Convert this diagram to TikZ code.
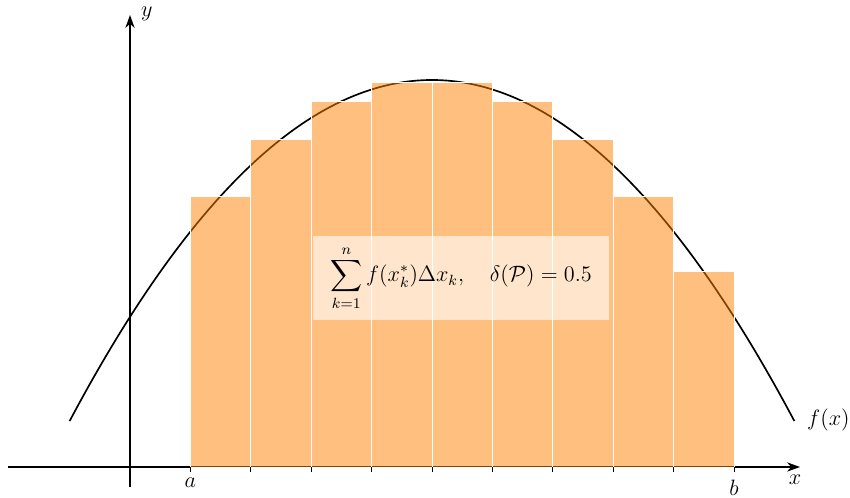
\documentclass[tikz,border=0pt]{standalone}
\usepackage{amsmath}
\usetikzlibrary{arrows.meta}
\begin{document}
\begin{tikzpicture}[x=0.54pt,y=0.54pt,
  every node/.style={font=\large},
  axis/.style={line width=0.85pt,-{Stealth[length=7pt,width=5pt]}},
  curve/.style={line width=0.9pt,black},
  bar/.style={fill=orange,fill opacity=0.5,draw=white,line width=0.5pt},
  tick/.style={line width=0.5pt},
  lbl/.style={inner sep=1pt}]
\useasboundingbox (0,0) rectangle (850,498);
% axes
\coordinate (xs) at (8,31);
\coordinate (xe) at (800,31);
\coordinate (ys) at (130,11);
\coordinate (ye) at (130,483);
\draw[axis] (xs) -- (xe);
\draw[axis] (ys) -- (ye);
\node[lbl,anchor=north] (xl) at (795,25) {$x$};
\node[lbl,anchor=west] (yl) at (139,484) {$y$};
% curve
\draw[curve] plot[domain=-0.5:5.5,samples=80,smooth] ({130+120.8*\x},{418-37.9*(\x-2.5)^2});
\coordinate (cend) at ({130+120.8*5.5},{418-37.9*9});
\node[lbl,anchor=west] (fl) at (805,78) {$f(x)$};
% bars
\foreach \i in {0,...,8}{
  \pgfmathsetmacro{\L}{0.5+0.5*\i}
  \pgfmathsetmacro{\M}{\L+0.25}
  \pgfmathsetmacro{\H}{418-37.9*(\M-2.5)^2}
  \draw[bar] ({130+120.8*\L},31) rectangle ({130+120.8*(\L+0.5)},\H);
}
% ticks
\foreach \i in {0,...,9}{
  \pgfmathsetmacro{\L}{0.5+0.5*\i}
  \draw[tick] ({130+120.8*\L},31) -- ({130+120.8*\L},26);
}
\node[lbl,anchor=north] (al) at ({130+120.8*0.5},22) {$a$};
\node[lbl,anchor=north] (bl) at ({130+120.8*5},20) {$b$};
% label box
\node[fill=white,fill opacity=0.6,text opacity=1,minimum width=160pt,minimum height=45pt,inner sep=0pt] (box) at (461,220)
  {$\displaystyle\sum_{k=1}^{n} f(x_k^*)\Delta x_k,\quad \delta(\mathcal{P})=0.5$};
\end{tikzpicture}
\end{document}
